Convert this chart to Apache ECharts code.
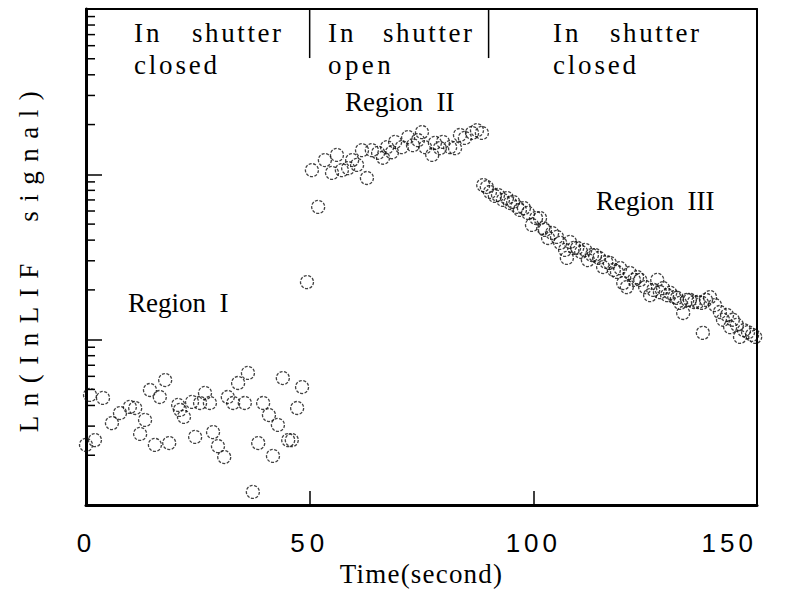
<!DOCTYPE html>
<html>
<head>
<meta charset="utf-8">
<script src="https://cdn.jsdelivr.net/npm/echarts@6/dist/echarts.min.js"></script>
<style>
  html, body { margin: 0; padding: 0; background: #fff; }
  #chart { width: 790px; height: 592px; }
  #chart text { white-space: pre; }
</style>
</head>
<body>
<div id="chart"></div>
<script>
// Region I: shutter closed, background level
const timeI = [0, 0.9, 2.0, 3.8, 5.8, 7.6, 9.8, 11.0, 12.1, 13.2, 14.3, 15.4, 16.5, 17.7, 18.6,
  20.6, 21.0, 21.9, 23.7, 24.4, 25.5, 26.6, 27.7, 28.4, 29.5, 30.9, 31.7, 32.9, 34.0, 35.5,
  36.2, 37.3, 38.5, 39.6, 40.9, 41.8, 42.9, 44.0, 45.2, 46.0, 47.2, 48.3];
const signalI = [2.31, 4.63, 2.47, 4.44, 3.13, 3.60, 3.92, 3.86, 2.69, 3.27, 4.96, 2.31, 4.50, 5.70, 2.37,
  4.03, 3.76, 3.41, 4.20, 2.58, 4.14, 4.76, 4.14, 2.76, 2.27, 1.95, 4.50, 4.14, 5.47, 4.14,
  6.29, 1.20, 2.37, 4.14, 3.50, 1.98, 3.05, 5.86, 2.47, 2.47, 3.86, 5.17];

// Region II: shutter open, rising signal
const timeII = [49.4, 50.5, 51.9, 53.4, 55.0, 56.1, 57.2, 58.6, 59.5, 60.6, 61.7, 62.8, 63.9, 65.3,
  66.4, 67.3, 68.4, 69.1, 70.6, 72.0, 73.1, 74.2, 75.1, 75.8, 77.4, 78.0, 79.1, 79.8, 81.4,
  82.5, 83.6, 84.7, 86.3, 87.4, 88.5];
const signalII = [22.3, 106, 63.5, 122, 102, 131, 106, 109, 122, 114, 140, 95, 140, 135,
  126, 146, 136, 157, 146, 168, 150, 161, 180, 146, 131, 155, 144, 157, 146,
  144, 173, 166, 178, 185, 178];

// Region III: shutter closed again, decaying signal
const timeIII = [88.8, 89.6, 90.3, 91.4, 92.1, 93.2, 94.1, 94.8, 95.5, 96.4, 97.0, 97.9, 98.8, 99.7,
  100.6, 101.5, 102.2, 102.6, 103.3, 104.2, 105.3, 106.0, 107.1, 107.5, 108.2, 109.1, 109.8,
  110.7, 111.6, 112.2, 113.1, 113.8, 114.7, 115.6, 116.3, 117.1, 118.0, 118.7, 119.4, 120.1,
  120.9, 121.6, 122.5, 123.2, 123.9, 125.0, 126.1, 126.8, 127.7, 128.3, 129.0, 129.9, 130.6,
  131.5, 132.1, 132.8, 133.5, 134.4, 135.0, 135.9, 136.8, 137.7, 137.9, 138.6, 139.5, 140.6,
  141.7, 142.4, 143.3, 144.0, 144.6, 145.5, 146.2, 147.1, 148.0, 148.9, 149.6];
const signalIII = [86.1, 83.8, 78.2, 74.0, 75.0, 70.0, 71.9, 67.1, 68.1, 63.5, 60.9, 62.5, 58.4, 49.4,
  54.4, 54.4, 47.4, 46.1, 41.2, 44.2, 41.8, 38.5, 34.9, 31.2, 39.0, 35.9, 35.9,
  33.9, 34.9, 30.3, 32.5, 32.5, 31.2, 27.5, 29.5, 29.1, 26.4, 25.7, 27.1, 22.0,
  20.8, 25.3, 23.0, 23.9, 23.0, 20.8, 18.6, 20.0, 23.0, 19.4, 20.5, 18.6, 19.2,
  18.1, 17.9, 16.7, 14.5, 17.4, 17.4, 16.9, 16.9, 16.7, 11.0, 17.4, 18.1, 16.2,
  14.7, 13.2, 14.1, 11.9, 13.2, 12.3, 10.4, 11.4, 11.1, 10.7, 10.4];

// Axis settings
const timeRange = [0, 150];
const timeTickStep = 50;
const signalRange = [1, 1000];
const minorSignalTicks = [2, 3, 4, 5, 6, 7, 8, 9, 20, 30, 40, 50, 60, 70, 80, 90,
  200, 300, 400, 500, 600, 700, 800, 900];

// Shutter switching times and the lower end of their separator lines
const shutterTimes = [50, 90];
const separatorLow = 505;

const serif = '"Liberation Serif", "Times New Roman", serif';
const sans = '"Liberation Sans", Arial, sans-serif';
const yTitle = 'Ln(InLIF  signal)';

function zip(xs, ys) { return xs.map((x, i) => [x, ys[i]]); }

const circleStyle = {
  color: 'rgba(0,0,0,0)',
  borderColor: '#111',
  borderWidth: 1.3,
  borderType: [3, 1.5]
};

function scatter(name, data) {
  return {
    name, type: 'scatter', data, symbol: 'circle', symbolSize: 13,
    itemStyle: circleStyle, emphasis: { disabled: true }, z: 3
  };
}

function label(text, left, top) {
  return { type: 'text', left, top, style: { text, font: '27px ' + serif, fill: '#000' } };
}

const chart = echarts.init(document.getElementById('chart'), null, { renderer: 'svg' });

chart.setOption({
  animation: false,
  backgroundColor: '#fff',
  grid: { left: 86, right: 33, top: 9, bottom: 87, outerBoundsMode: 'none', containLabel: false },
  xAxis: [{
    type: 'value', min: timeRange[0], max: timeRange[1], interval: timeTickStep,
    position: 'bottom',
    name: 'Time(second)', nameLocation: 'middle', nameGap: 50,
    nameTextStyle: { fontFamily: serif, fontSize: 27, color: '#000' },
    axisLine: { onZero: false, lineStyle: { color: '#000', width: 3 } },
    axisTick: { inside: true, length: 14, lineStyle: { color: '#000', width: 1.5 } },
    axisLabel: { margin: 25, fontFamily: sans, fontSize: 26, color: '#000', alignMaxLabel: 'right' },
    splitLine: { show: false }
  }, {
    type: 'value', min: timeRange[0], max: timeRange[1], position: 'top',
    axisLine: { onZero: false, lineStyle: { color: '#000', width: 2 } },
    axisTick: { show: false }, axisLabel: { show: false }, splitLine: { show: false }
  }],
  yAxis: [{
    type: 'log', logBase: 10, min: signalRange[0], max: signalRange[1],
    position: 'left',
    name: yTitle, nameLocation: 'middle', nameGap: 44, nameRotate: 90,
    nameTextStyle: { fontFamily: serif, fontSize: 27, color: '#000' },
    axisLine: { onZero: false, lineStyle: { color: '#000', width: 3 } },
    axisTick: { inside: true, length: 16, lineStyle: { color: '#000', width: 1.5 } },
    axisLabel: { show: false },
    splitLine: { show: false }
  }, {
    type: 'log', logBase: 10, min: signalRange[0], max: signalRange[1], position: 'right',
    axisLine: { onZero: false, lineStyle: { color: '#000', width: 2 } },
    axisTick: { show: false }, axisLabel: { show: false }, splitLine: { show: false }
  }],
  series: [
    scatter('Region I', zip(timeI, signalI)),
    scatter('Region II', zip(timeII, signalII)),
    scatter('Region III', zip(timeIII, signalIII)),
    {
      // minor ticks of the logarithmic signal axis
      type: 'custom', silent: true, clip: false, z: 4,
      data: minorSignalTicks.map(v => [timeRange[0], v]),
      renderItem(params, api) {
        const p = api.coord([api.value(0), api.value(1)]);
        return { type: 'line', shape: { x1: p[0], y1: p[1], x2: p[0] + 9, y2: p[1] },
          style: { stroke: '#000', lineWidth: 1.5 } };
      }
    },
    {
      // shutter switching markers hanging from the top frame
      type: 'custom', silent: true, clip: false, z: 4,
      data: shutterTimes.map(t => [t, signalRange[1]]),
      renderItem(params, api) {
        const top = api.coord([api.value(0), api.value(1)]);
        const low = api.coord([api.value(0), separatorLow]);
        return { type: 'line', shape: { x1: top[0], y1: top[1], x2: low[0], y2: low[1] },
          style: { stroke: '#000', lineWidth: 1.5 } };
      }
    }
  ],
  graphic: [
    label('In', 134, 19), label('shutter', 192, 19), label('closed', 134, 51),
    label('In', 328, 19), label('shutter', 383, 19), label('open', 328, 51),
    label('In', 553, 19), label('shutter', 610, 19), label('closed', 553, 51),
    label('Region  II', 345, 88),
    label('Region  III', 596, 187),
    label('Region  I', 128, 289)
  ]
});

// Typewriter-like tracking for the frame texts
const tracking = {
  'In': 3, 'shutter': 2.6, 'closed': 2.8, 'open': 3.4,
  'Time(second)': 1.2,
  '0': 4, '50': 5, '100': 4, '150': 4
};
tracking[yTitle] = 9.5;
function applyTracking() {
  document.querySelectorAll('#chart text').forEach(el => {
    const t = el.textContent;
    if (Object.prototype.hasOwnProperty.call(tracking, t)) {
      el.style.letterSpacing = tracking[t] + 'px';
    }
  });
}
applyTracking();
chart.on('finished', applyTracking);
</script>
</body>
</html>
